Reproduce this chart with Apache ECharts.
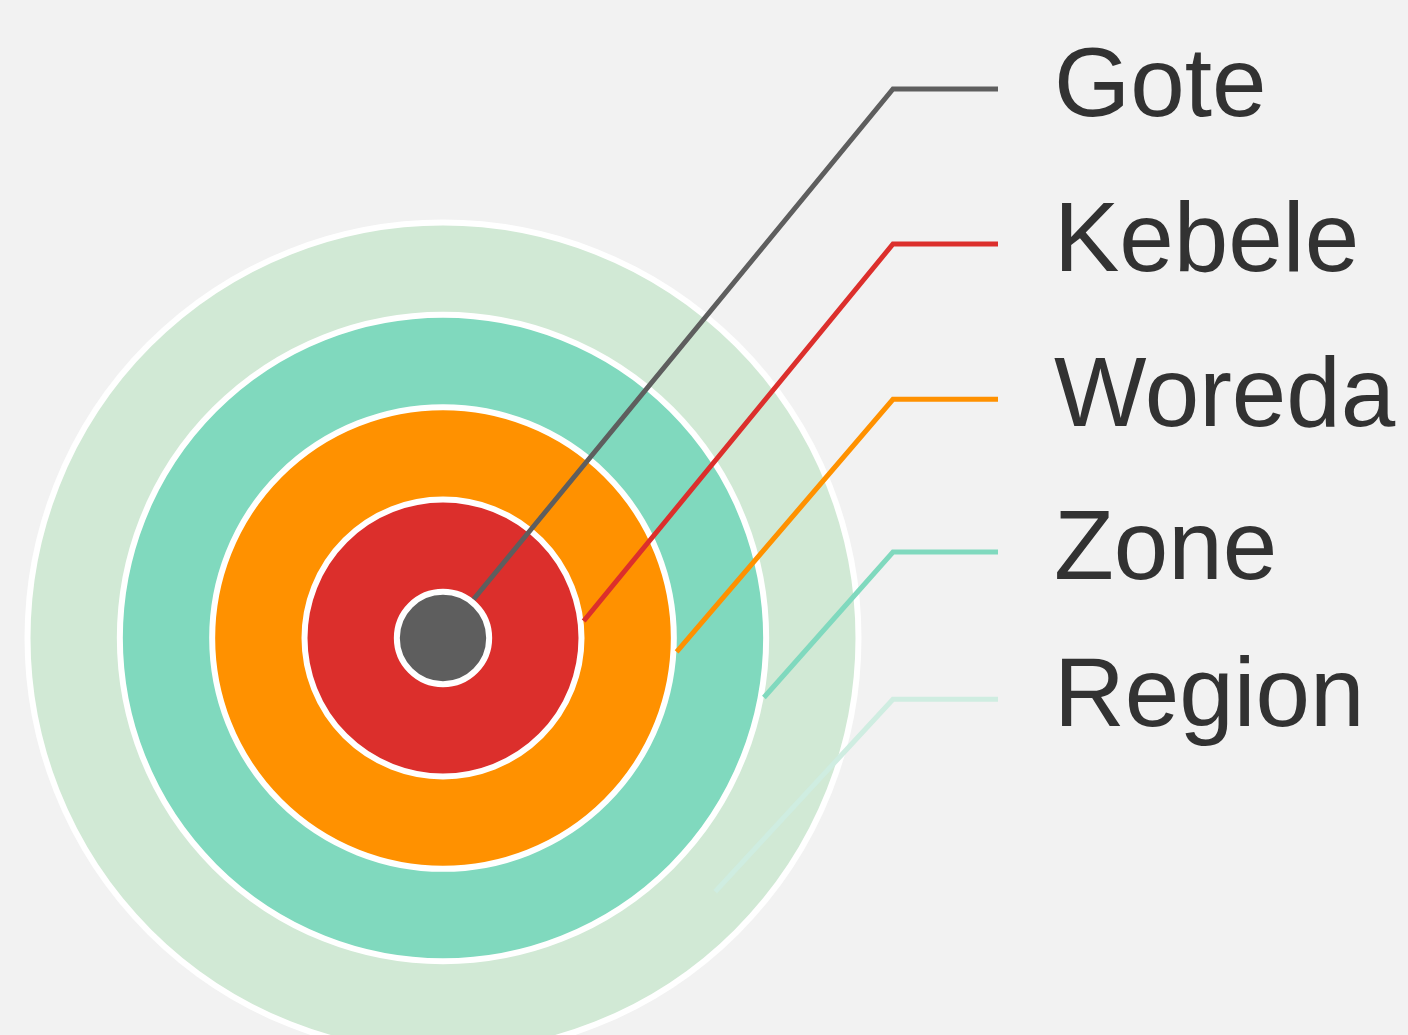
<!DOCTYPE html>
<html>
<head>
<meta charset="utf-8">
<script src="https://cdn.jsdelivr.net/npm/echarts@6/dist/echarts.min.js"></script>
<style>
  html, body { margin: 0; padding: 0; background: #f2f2f2; }
  #chart { width: 1408px; height: 1035px; }
</style>
</head>
<body>
<div id="chart"></div>
<script>
// ---- data (inner → outer) ----
const levels = ['Gote', 'Kebele', 'Woreda', 'Zone', 'Region'];
const ringIndex = [0, 1, 2, 3, 4];          // nesting depth from the centre
const ringValue = [1, 1, 1, 1, 1];          // each ring is one full circle

// ---- styles / layout (kept apart from data) ----
const ringColors = ['#5e5e5e', '#dc2f2c', '#ff9100', '#80d9be', '#d1e9d5'];
const lineColors = ['#5e5e5e', '#dc2f2c', '#ff9100', '#80d9be', '#cfede1'];
const anchorDeg = [51.7, 6.9, -3.4, -10.5, -43];   // where each leader line leaves its ring
const anchorUnit = [0.535, 1.535, 2.535, 3.535, 4.03];
const labelRowY = [89, 244, 399.3, 552, 699.3];
const CX = 443, CY = 638, UNIT = 92.33;
const ELBOW_X = 893, LINE_END_X = 998, TEXT_X = 1054;

const chart = echarts.init(document.getElementById('chart'), null, { renderer: 'canvas' });

const series = [];
// rings, outer first so inner discs sit on top
for (let i = levels.length - 1; i >= 0; i--) {
  const R = UNIT * (ringIndex[i] + 0.5);
  series.push({
    type: 'pie',
    name: levels[i],
    silent: true,
    animation: false,
    z: 10 - ringIndex[i],
    center: [CX, CY],
    radius: [0, R],
    startAngle: 90,
    label: { show: false },
    labelLine: { show: false },
    itemStyle: { color: ringColors[i], borderColor: '#ffffff', borderWidth: 6 },
    data: [{ name: levels[i], value: ringValue[i] }]
  });
}

// leader lines + labels, drawn above every ring
series.push({
  type: 'pie',
  name: 'labels',
  silent: true,
  animation: false,
  z: 30,
  center: [CX, CY],
  radius: [0, UNIT * 0.5],
  startAngle: 90,
  avoidLabelOverlap: false,
  itemStyle: { color: 'rgba(0,0,0,0)', borderWidth: 0 },
  label: {
    show: true,
    position: 'outside',
    formatter: '{b}',
    width: 400,
    overflow: 'none',
    fontSize: 98,
    fontFamily: '"Liberation Sans", Arial, Helvetica, sans-serif',
    color: '#323232'
  },
  labelLine: { show: true, smooth: false, lineStyle: { width: 5, cap: 'butt', opacity: 1 } },
  labelLayout: function (params) {
    const i = params.dataIndex;
    const a = anchorDeg[i] * Math.PI / 180;
    const r = UNIT * anchorUnit[i];
    const sx = CX + r * Math.cos(a);
    const sy = CY - r * Math.sin(a);
    const y = labelRowY[i];
    return {
      x: TEXT_X,
      y: y,
      align: 'left',
      verticalAlign: 'middle',
      labelLinePoints: [[sx, sy], [ELBOW_X, y], [LINE_END_X, y]]
    };
  },
  data: levels.map((name, i) => ({
    name: name,
    value: ringValue[i],
    labelLine: { lineStyle: { color: lineColors[i] } }
  }))
});

chart.setOption({
  backgroundColor: '#f2f2f2',
  animation: false,
  series: series
});
</script>
</body>
</html>
